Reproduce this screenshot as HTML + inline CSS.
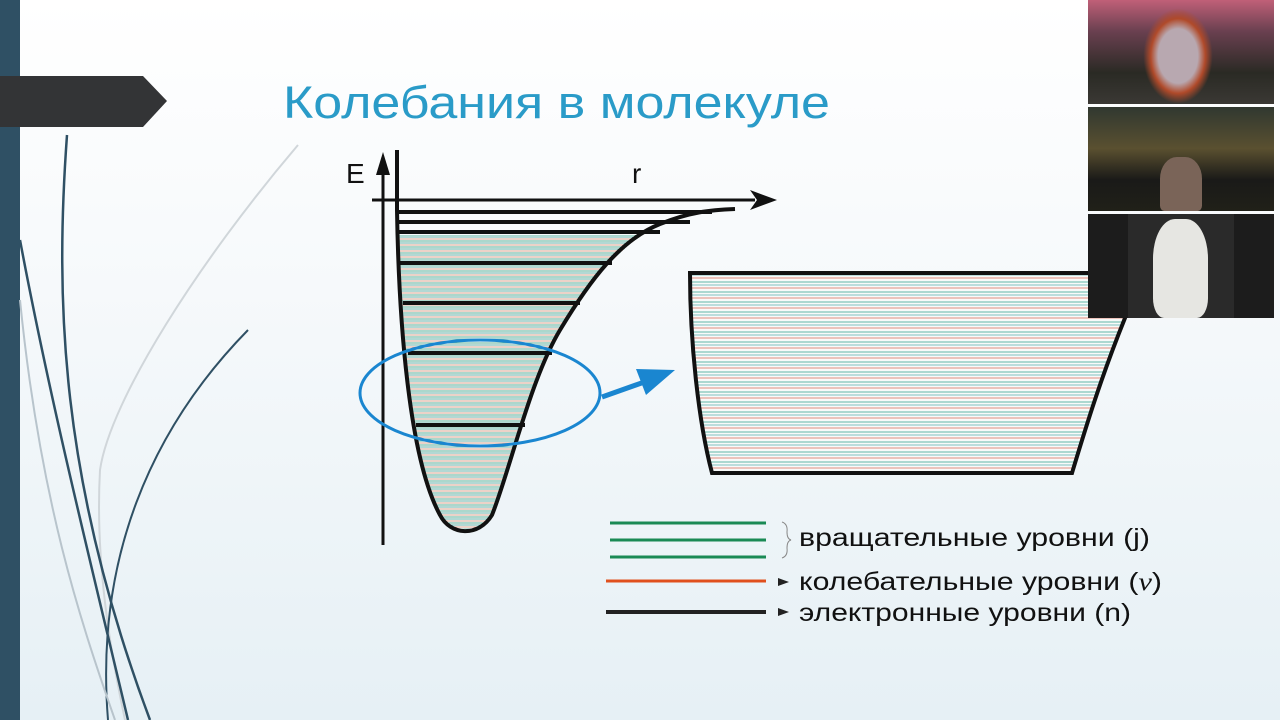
<!DOCTYPE html>
<html><head><meta charset="utf-8"><style>
html,body{margin:0;padding:0;width:1280px;height:720px;overflow:hidden}
body{background:linear-gradient(180deg,#ffffff 0%,#f6f9fb 40%,#e6f0f5 100%);position:relative;font-family:"Liberation Sans",sans-serif}
.vid{position:absolute;left:1088px;width:186px;height:104px}
</style></head><body>
<svg width="1280" height="720" style="position:absolute;left:0;top:0">
<defs>
<pattern id="lv" width="10" height="6" patternUnits="userSpaceOnUse">
<rect width="10" height="6" fill="#f7f9f8"/>
<line x1="0" y1="1" x2="10" y2="1" stroke="#4fae96" stroke-width="0.9"/>
<line x1="0" y1="3" x2="10" y2="3" stroke="#5cb0a8" stroke-width="0.9"/>
<line x1="0" y1="5" x2="10" y2="5" stroke="#d98a70" stroke-width="0.7"/>
</pattern>
<pattern id="lv2" width="10" height="10" patternUnits="userSpaceOnUse">
<rect width="10" height="10" fill="#f8faf9"/>
<line x1="0" y1="2" x2="10" y2="2" stroke="#5fb5a8" stroke-width="1"/>
<line x1="0" y1="5" x2="10" y2="5" stroke="#7fc0c0" stroke-width="1"/>
<line x1="0" y1="8" x2="10" y2="8" stroke="#d97060" stroke-width="0.8"/>
</pattern>
</defs>
<rect x="0" y="0" width="20" height="720" fill="#2f5064"/>
<polygon points="0,76 143,76 167,101 143,127 0,127" fill="#333436"/>
<g fill="none">
<path d="M298,145 C200,260 110,400 100,470 C95,560 110,650 125,720" stroke="#d0d6da" stroke-width="2"/>
<path d="M67,135 C55,300 60,480 150,720" stroke="#2f5064" stroke-width="2.5"/>
<path d="M20,240 C50,400 90,560 128,720" stroke="#2f5064" stroke-width="2.5"/>
<path d="M248,330 C150,430 95,560 108,720" stroke="#2f5064" stroke-width="2"/>
<path d="M20,300 C40,500 80,620 115,720" stroke="#b8c4cc" stroke-width="2"/>
</g>
<text x="283" y="118" font-size="45" fill="#2a9bc8" textLength="547" lengthAdjust="spacingAndGlyphs">Колебания в молекуле</text>

<path d="M398,235 C400,330 410,460 440,515 C450,532 480,535 492,515 C510,470 530,380 560,330 C580,295 600,270 640,235 Z" fill="url(#lv)"/>
<g stroke="#111" stroke-width="4">
<line x1="398" y1="212" x2="712" y2="212"/>
<line x1="398" y1="222" x2="690" y2="222"/>
<line x1="398" y1="232" x2="660" y2="232"/>
<line x1="400" y1="263" x2="612" y2="263"/>
<line x1="403" y1="303" x2="580" y2="303"/>
<line x1="408" y1="353" x2="552" y2="353"/>
<line x1="416" y1="425" x2="525" y2="425"/>
</g>
<path d="M397,150 L397,210 C399,330 410,460 440,515 C450,535 478,538 492,515 C510,470 530,380 560,330 C590,280 620,240 660,224 C690,212 710,210 735,209" fill="none" stroke="#111" stroke-width="4"/>
<line x1="383" y1="170" x2="383" y2="545" stroke="#111" stroke-width="3"/>
<polygon points="383,152 376,175 390,175" fill="#111"/>
<line x1="372" y1="200" x2="755" y2="200" stroke="#111" stroke-width="3"/>
<polygon points="777,200 750,190 757,200 750,210" fill="#111"/>
<text x="346" y="183" font-size="28" fill="#111">E</text>
<text x="632" y="183" font-size="28" fill="#111">r</text>
<path d="M690,273 L1125,273 L1125,318 C1100,380 1085,430 1072,473 L712,473 C698,420 690,340 690,273 Z" fill="url(#lv2)" stroke="#111" stroke-width="4"/>
<ellipse cx="480" cy="393" rx="120" ry="53" fill="none" stroke="#1a86d0" stroke-width="3"/>
<line x1="602" y1="397" x2="650" y2="380" stroke="#1a86d0" stroke-width="5"/>
<polygon points="675,370 636,369 646,395" fill="#1a86d0"/>
<g stroke="#1a8a55" stroke-width="3">
<line x1="610" y1="523" x2="766" y2="523"/><line x1="610" y1="540" x2="766" y2="540"/><line x1="610" y1="557" x2="766" y2="557"/>
</g>
<line x1="606" y1="581" x2="766" y2="581" stroke="#e0501e" stroke-width="3"/>
<line x1="606" y1="612" x2="766" y2="612" stroke="#222" stroke-width="4"/>
<path d="M782,522 Q788,524 787,532 Q787,539 791,540 Q787,541 787,548 Q788,556 782,558" fill="none" stroke="#888" stroke-width="1"/>
<polygon points="789,582 778,578 778,586" fill="#222"/>
<polygon points="789,612 778,608 778,616" fill="#222"/>
<g font-size="25" fill="#111">
<text x="799" y="546" textLength="351" lengthAdjust="spacingAndGlyphs">вращательные уровни (j)</text>
<text x="799" y="590" textLength="363" lengthAdjust="spacingAndGlyphs">колебательные уровни (<tspan font-family="Liberation Serif,serif" font-style="italic">v</tspan>)</text>
<text x="799" y="621" textLength="332" lengthAdjust="spacingAndGlyphs">электронные уровни (n)</text>
</g>
</svg>
<div class="vid" style="top:0;background:linear-gradient(180deg,#c06078 0%,#6a4050 30%,#2a2a24 70%,#3a3834 100%)"><div style="position:absolute;left:55px;top:8px;width:70px;height:96px;border-radius:40% 40% 10% 10%;background:radial-gradient(ellipse at 50% 50%,#b8a8b0 0 40%,#b04a2a 55%,transparent 70%)"></div></div>
<div class="vid" style="top:107px;background:linear-gradient(180deg,#303830 0%,#5a5030 40%,#1a1a18 70%,#202018 100%)"><div style="position:absolute;left:72px;top:50px;width:42px;height:54px;border-radius:40% 40% 10% 10%;background:#7a6458"></div></div>
<div class="vid" style="top:214px;background:#1c1c1c"><div style="position:absolute;left:40px;top:0;width:106px;height:104px;background:#2a2a2a"></div><div style="position:absolute;left:65px;top:5px;width:55px;height:99px;border-radius:40% 40% 20% 20%;background:#e6e6e2"></div></div>
</body></html>
